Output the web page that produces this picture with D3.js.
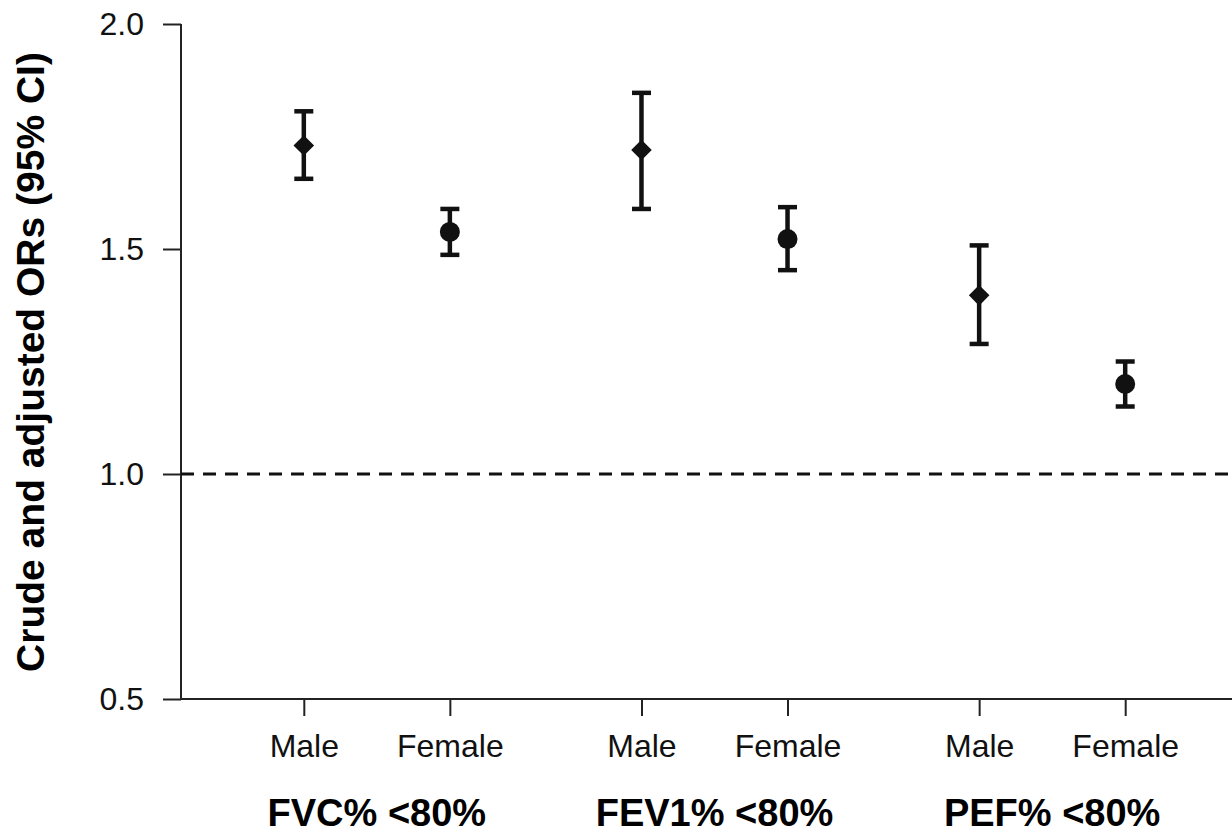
<!DOCTYPE html>
<html>
<head>
<meta charset="utf-8">
<script src="https://cdn.jsdelivr.net/npm/d3@7"></script>
<style>
  body { margin: 0; background: #fff; }
  svg { display: block; font-family: "Liberation Sans", Arial, sans-serif; }
</style>
</head>
<body>
<div class="canvas"></div>
<script>
// data
const groups = ["FVC% <80%", "FEV1% <80%", "PEF% <80%"];
const sexes = ["Male", "Female"];
const orValues = [1.73, 1.538, 1.72, 1.522, 1.397, 1.2];
const ciLower = [1.656, 1.487, 1.589, 1.453, 1.289, 1.15];
const ciUpper = [1.806, 1.589, 1.847, 1.593, 1.508, 1.25];
const yTicks = [0.5, 1.0, 1.5, 2.0];
const refLine = 1.0;

const dims = { width: 1232, height: 836 };
const plot = { left: 181, right: 1232, top: 24, bottom: 699 };

const points = [];
groups.forEach((g, gi) => {
  sexes.forEach((s, si) => {
    const i = gi * sexes.length + si;
    points.push({ group: g, sex: s, or: orValues[i], lo: ciLower[i], hi: ciUpper[i] });
  });
});

const svg = d3
  .select(".canvas")
  .append("svg")
  .attr("width", dims.width)
  .attr("height", dims.height);

const y = d3.scaleLinear().domain([0.5, 2.0]).range([plot.bottom, plot.top]);

const xGroup = d3.scaleBand().domain(groups).range([208, 1221]).padding(0);

const xSex = d3
  .scalePoint()
  .domain(sexes)
  .range([0, xGroup.bandwidth()])
  .padding(0.656);

const xPos = (d) => xGroup(d.group) + xSex(d.sex);

// y axis
const yAxis = svg
  .append("g")
  .attr("transform", `translate(${plot.left},0)`)
  .call(
    d3
      .axisLeft(y)
      .tickValues(yTicks)
      .tickFormat(d3.format(".1f"))
      .tickSize(18)
      .tickPadding(19)
  );

yAxis.select(".domain").attr("stroke", "#222").attr("stroke-width", 2).attr("d", `M0,${plot.top}V${plot.bottom}`);
yAxis.selectAll(".tick line").attr("stroke", "#222").attr("stroke-width", 2);
yAxis
  .selectAll(".tick text")
  .attr("font-size", 32)
  .attr("font-family", "Liberation Sans, Arial, sans-serif")
  .attr("fill", "#111");

// x baseline
svg
  .append("line")
  .attr("x1", plot.left)
  .attr("x2", plot.right)
  .attr("y1", y(0.5))
  .attr("y2", y(0.5))
  .attr("stroke", "#222")
  .attr("stroke-width", 2);

// x axes per group
groups.forEach((g) => {
  const ax = svg
    .append("g")
    .attr("transform", `translate(${xGroup(g)},${plot.bottom})`)
    .call(d3.axisBottom(xSex).tickSize(17).tickPadding(18));
  ax.select(".domain").remove();
  ax.selectAll(".tick line").attr("stroke", "#222").attr("stroke-width", 2);
  ax.selectAll(".tick text")
    .attr("font-size", 32)
    .attr("font-family", "Liberation Sans, Arial, sans-serif")
    .attr("fill", "#111");
});

// group labels
svg
  .selectAll(".group-label")
  .data(groups)
  .enter()
  .append("text")
  .attr("class", "group-label")
  .attr("x", (d) => xGroup(d) + xGroup.bandwidth() / 2)
  .attr("y", 826)
  .attr("text-anchor", "middle")
  .attr("font-size", 38)
  .attr("font-weight", "bold")
  .attr("fill", "#000")
  .text((d) => d);

// y title
svg
  .append("text")
  .attr("transform", `translate(44,${(54 + 670) / 2}) rotate(-90)`)
  .attr("text-anchor", "middle")
  .attr("font-size", 39)
  .attr("font-weight", "bold")
  .attr("fill", "#000")
  .text("Crude and adjusted ORs (95% CI)");

// reference line
svg
  .append("line")
  .attr("x1", plot.left)
  .attr("x2", plot.right)
  .attr("y1", y(refLine))
  .attr("y2", y(refLine))
  .attr("stroke", "#111")
  .attr("stroke-width", 3)
  .attr("stroke-dasharray", "13,9");

// error bars
const capW = 19;
const bars = svg.append("g").attr("stroke", "#111").attr("stroke-width", 4.5);

bars
  .selectAll(".whisker")
  .data(points)
  .enter()
  .append("line")
  .attr("x1", xPos)
  .attr("x2", xPos)
  .attr("y1", (d) => y(d.hi))
  .attr("y2", (d) => y(d.lo));

["hi", "lo"].forEach((k) => {
  bars
    .selectAll(".cap-" + k)
    .data(points)
    .enter()
    .append("line")
    .attr("x1", (d) => xPos(d) - capW / 2)
    .attr("x2", (d) => xPos(d) + capW / 2)
    .attr("y1", (d) => y(d[k]))
    .attr("y2", (d) => y(d[k]));
});

// markers: diamond for male, circle for female
const symbol = d3
  .symbol()
  .type((d) => (d.sex === "Male" ? d3.symbolDiamond2 : d3.symbolCircle))
  .size((d) => (d.sex === "Male" ? 270 : 314));

svg
  .selectAll(".marker")
  .data(points)
  .enter()
  .append("path")
  .attr("class", "marker")
  .attr("transform", (d) => `translate(${xPos(d)},${y(d.or)})`)
  .attr("d", symbol)
  .attr("fill", "#111");
</script>
</body>
</html>
